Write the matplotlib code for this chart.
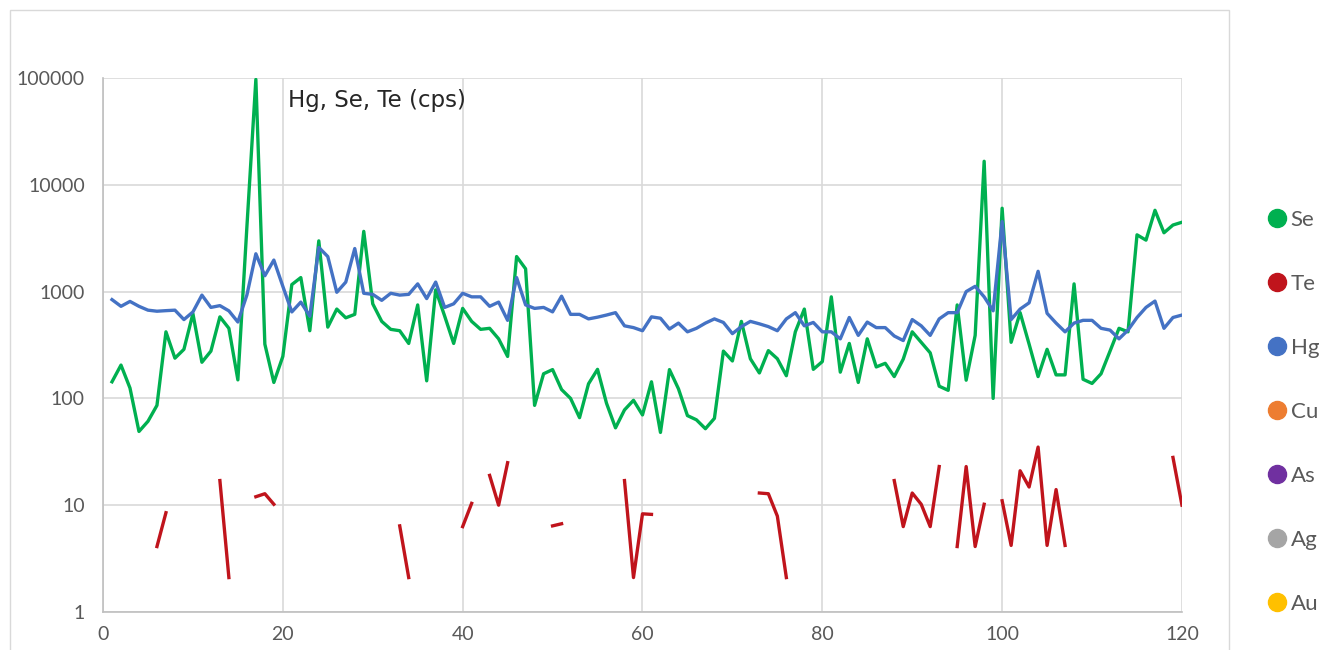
import numpy as np
import matplotlib
matplotlib.use("Agg")
import matplotlib.pyplot as plt
from matplotlib.lines import Line2D
from matplotlib.patches import Rectangle
from matplotlib.ticker import FixedLocator, FuncFormatter

# sample number along the profile
sample = np.arange(1, 121)

se = [143, 205, 125, 49, 61, 86, 420, 238, 288, 621,
      218, 277, 580, 453, 149, 4000, 97000, 322, 141, 247,
      1163, 1353, 430, 2985, 465, 686, 568, 612, 3664, 768,
      526, 443, 430, 327, 750, 146, 1038, 589, 327, 696,
      526, 443, 453, 361, 247, 2128, 1634, 86, 170, 186,
      121, 100, 66, 137, 187, 90, 53, 78, 96, 70,
      143, 48, 186, 123, 69, 63, 52, 65, 277, 224,
      526, 235, 173, 280, 235, 163, 420, 686, 187, 221,
      893, 176, 327, 141, 361, 197, 213, 160, 233, 420,
      335, 267, 130, 119, 750, 148, 389, 16600, 100, 6030,
      335, 635, 322, 160, 288, 166, 166, 1181, 151, 138,
      170, 277, 453, 420, 3400, 3033, 5770, 3555, 4200, 4460]

hg = [841, 728, 809, 728, 670, 655, 663, 670, 547, 645,
      927, 711, 739, 660, 519, 927, 2260, 1407, 1972, 1120,
      645, 797, 589, 2590, 2128, 985, 1227, 2530, 964, 942,
      828, 964, 927, 942, 1181, 860, 1227, 711, 768, 964,
      893, 893, 728, 797, 538, 1353, 750, 696, 711, 646,
      906, 612, 612, 555, 576, 603, 635, 478, 460, 430,
      580, 563, 446, 507, 420, 453, 507, 555, 514, 404,
      470, 526, 499, 470, 430, 555, 635, 478, 514, 420,
      420, 361, 572, 389, 518, 460, 460, 384, 348, 547,
      478, 389, 555, 635, 635, 1000, 1120, 893, 661, 4530,
      547, 686, 785, 1549, 626, 507, 420, 507, 538, 538,
      453, 436, 361, 436, 572, 711, 815, 453, 572, 603]

# Te only detected in some samples; the rest are gaps
te_detected = {6: 4.1, 7: 8.5, 13: 17, 14: 2.1, 17: 12, 18: 12.8, 19: 10.2,
               33: 6.4, 34: 2.1, 40: 6.3, 41: 10.4, 43: 19, 44: 10, 45: 25,
               50: 6.4, 51: 6.7, 58: 17, 59: 2.1, 60: 8.3, 61: 8.2,
               73: 13, 74: 12.8, 75: 7.9, 76: 2.1,
               88: 17, 89: 6.3, 90: 13, 91: 10.2, 92: 6.3, 93: 23,
               95: 4.1, 96: 23, 97: 4.1, 98: 10.2,
               100: 11, 101: 4.2, 102: 21, 103: 14.8, 104: 35, 105: 4.2,
               106: 14, 107: 4.2, 119: 28, 120: 10}
te = [te_detected.get(i, np.nan) for i in sample]

series_names = ["Se", "Te", "Hg", "Cu", "As", "Ag", "Au"]
series_colors = ["#00B050", "#C0141C", "#4472C4", "#ED7D31",
                 "#7030A0", "#A5A5A5", "#FFC000"]
ytick_values = [1, 10, 100, 1000, 10000, 100000]
xtick_values = [0, 20, 40, 60, 80, 100, 120]

fig = plt.figure(figsize=(13.36, 6.5), dpi=100)
ax = fig.add_axes([0.0771, 0.0585, 0.8076, 0.8215])

ax.plot(sample, se, color=series_colors[0], lw=2.4, zorder=3)
ax.plot(sample, te, color=series_colors[1], lw=2.4, zorder=3)
ax.plot(sample, hg, color=series_colors[2], lw=2.4, zorder=4)

ax.set_yscale("log")
ax.set_xlim(0, 120)
ax.set_ylim(1, 100000)
ax.yaxis.set_major_locator(FixedLocator(ytick_values))
ax.yaxis.set_major_formatter(FuncFormatter(lambda v, p: f"{v:.0f}"))
ax.yaxis.set_minor_locator(FixedLocator([]))
ax.set_xticks(xtick_values)

ax.grid(True, color="#d9d9d9", lw=1.2)
ax.set_axisbelow(True)
for side in ["top", "right"]:
    ax.spines[side].set_visible(False)
for side in ["left", "bottom"]:
    ax.spines[side].set_color("#bfbfbf")
    ax.spines[side].set_linewidth(1.2)

ax.tick_params(axis="both", length=0, labelsize=14, labelcolor="#595959")
ax.tick_params(axis="x", pad=10)
ax.tick_params(axis="y", pad=13)
for lbl in ax.get_xticklabels() + ax.get_yticklabels():
    lbl.set_family("Lato")

ax.text(0.171, 0.957, "Hg, Se, Te (cps)", transform=ax.transAxes,
        fontsize=16.5, color="#262626", va="center", ha="left",
        family="DejaVu Sans")

# chart area frame
fig.add_artist(Rectangle((10 / 1336, -0.05), (1229 - 10) / 1336,
                         1 - 10 / 650 + 0.05, transform=fig.transFigure,
                         fill=False, edgecolor="#d9d9d9", lw=1.0))

handles = [Line2D([], [], marker="o", linestyle="", markersize=13,
                  markerfacecolor=c, markeredgecolor=c)
           for c in series_colors]
leg = fig.legend(handles, series_names, loc="upper left",
                 bbox_to_anchor=(1253 / 1336, 1 - 199 / 650),
                 frameon=False, handletextpad=0.0, handlelength=1.2,
                 labelspacing=1.98, borderpad=0,
                 prop={"family": "Lato", "size": 16})
for t in leg.get_texts():
    t.set_color("#595959")

fig.savefig("out.png", dpi=100)
